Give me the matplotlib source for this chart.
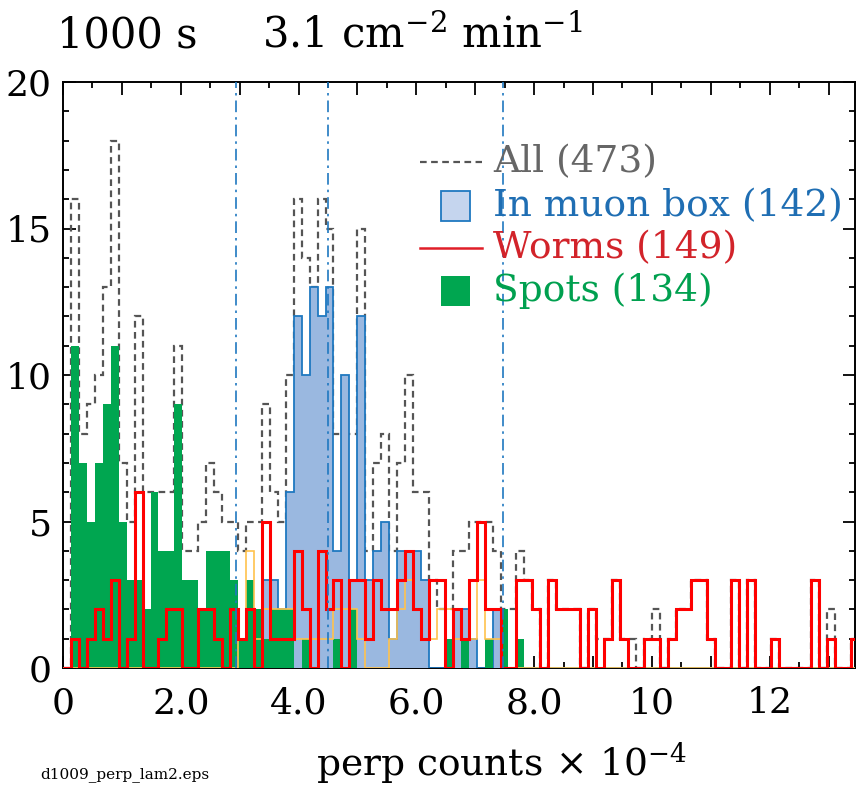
import numpy as np
import matplotlib
matplotlib.use("Agg")
import matplotlib.pyplot as plt
from matplotlib.patches import Rectangle

plt.rcParams["font.family"] = ["DejaVu Serif"]
plt.rcParams["mathtext.fontset"] = "dejavuserif"

# histogram data: 100 bins of 0.1351 (perp counts x 1e-4)
bin_width = 0.1351
n_bins = 100

all_counts = [0, 16, 8, 9, 10, 13, 18, 7, 5, 12,
              6, 6, 6, 6, 11, 4, 4, 5, 7, 6,
              5, 5, 4, 5, 5, 9, 6, 5, 10, 16,
              14, 13, 16, 15, 8, 8, 8, 15, 4, 7,
              8, 4, 7, 10, 6, 6, 3, 2, 2, 4,
              4, 5, 5, 5, 4, 2, 2, 4, 3, 2,
              0, 3, 2, 2, 2, 0, 2, 1, 1, 3,
              1, 1, 0, 1, 2, 0, 1, 2, 2, 3,
              3, 1, 0, 0, 3, 0, 3, 0, 0, 1,
              0, 0, 0, 0, 3, 0, 2, 0, 0, 1]

muon_counts = [0] * 25 + [3, 3, 2, 6, 12, 10, 13, 12, 13, 4,
                          10, 3, 12, 3, 4, 5, 1, 4, 4, 4,
                          3, 0, 0, 0, 2, 2, 1, 0, 0, 2] + [0] * 45

worm_counts = [0, 1, 0, 1, 2, 1, 3, 0, 1, 6,
               0, 0, 1, 2, 2, 0, 0, 2, 2, 1,
               0, 2, 1, 2, 0, 5, 1, 1, 1, 4,
               2, 0, 4, 2, 3, 0, 3, 3, 1, 3,
               2, 2, 3, 4, 2, 1, 3, 3, 0, 2,
               1, 3, 5, 2, 2, 0, 0, 3, 3, 2,
               0, 3, 2, 2, 2, 0, 2, 0, 1, 3,
               1, 0, 0, 1, 1, 0, 1, 2, 2, 3,
               3, 1, 0, 0, 3, 0, 3, 0, 0, 1,
               0, 0, 0, 0, 3, 0, 1, 0, 0, 1]

spot_counts = [0, 11, 7, 5, 7, 9, 11, 5, 3, 3,
               2, 6, 4, 4, 9, 3, 3, 2, 4, 4,
               4, 3, 1, 3, 2, 1, 2, 2, 2, 0,
               1, 0, 0, 0, 1, 0, 2, 0, 0, 0,
               0, 0, 0, 0, 0, 0, 0, 0, 1, 0,
               1, 0, 0, 1, 0, 2, 0, 1] + [0] * 42

other_counts = [0] * 22 + [1, 4, 1, 2, 2, 2, 2, 1, 1, 1,
                           1, 1, 2, 2, 2, 1, 0, 0, 0, 1,
                           2, 3, 2, 1, 1, 2, 2, 1, 1, 1,
                           3, 1, 1] + [0] * 45

cut_lines = [2.93, 4.50, 7.47]

legend_labels = ["All (473)", "In muon box (142)", "Worms (149)", "Spots (134)"]
x_tick_vals = list(range(0, 14))
x_tick_text = ["0", "", "2.0", "", "4.0", "", "6.0", "", "8.0", "", "10", "", "12", ""]
y_tick_vals = [0, 5, 10, 15, 20]

edges = np.arange(n_bins + 1) * bin_width

fig = plt.figure(figsize=(8.56, 7.87), dpi=100)
ax = fig.add_axes([63 / 856, 1 - 668 / 787, 792 / 856, 586 / 787])

ax.stairs(all_counts, edges, color="#555555", lw=1.6, ls=(0, (3, 2)), zorder=2)
ax.stairs(muon_counts, edges, fill=True, facecolor="#9ab8e0", zorder=3)
ax.stairs(muon_counts, edges, color="#1f78c0", lw=1.3, zorder=3.1)
ax.stairs(spot_counts, edges, fill=True, facecolor="#00a650", zorder=4)
ax.stairs(other_counts, edges, color="#ffc24d", lw=1.2, zorder=5)
ax.stairs(worm_counts, edges, color="#ff0000", lw=2.2, zorder=6)
for xc in cut_lines:
    ax.axvline(xc, color="#1f78c0", lw=1.2, ls=(0, (7, 3, 1.5, 3)), zorder=7)

ax.set_xlim(0, 13.45)
ax.set_ylim(0, 20)
ax.set_xticks(x_tick_vals)
ax.set_xticklabels(x_tick_text)
ax.set_xticks(np.arange(0, 13.5, 0.5), minor=True)
ax.set_yticks(y_tick_vals)
ax.set_yticklabels([str(v) for v in y_tick_vals])
ax.set_yticks(range(0, 21), minor=True)
ax.tick_params(which="both", direction="in", top=True, right=True, width=1.3,
               labelsize=26, colors="black")
ax.tick_params(which="major", length=9)
ax.tick_params(which="minor", length=4.5)
ax.tick_params(axis="x", which="major", pad=13)
ax.tick_params(axis="y", which="major", pad=8)
for s in ax.spines.values():
    s.set_linewidth(1.4)

# legend drawn by hand, texts coloured like their series
rows = [0.864, 0.788, 0.716, 0.643]
text_colors = ["#666666", "#1f6eb3", "#d2232a", "#00a04f"]
ax.plot([0.451, 0.529], [rows[0], rows[0]], transform=ax.transAxes,
        color="#555555", lw=1.6, ls=(0, (3, 2)), zorder=8)
ax.add_patch(Rectangle((0.477, rows[1] - 0.026), 0.037, 0.052, transform=ax.transAxes,
                       facecolor="#c5d5ee", edgecolor="#1f78c0", lw=1.3, zorder=8))
ax.plot([0.451, 0.529], [rows[2], rows[2]], transform=ax.transAxes,
        color="#e01e28", lw=1.8, zorder=8)
ax.add_patch(Rectangle((0.477, rows[3] - 0.026), 0.037, 0.052, transform=ax.transAxes,
                       facecolor="#00a650", edgecolor="none", zorder=8))
for lab, yy, c in zip(legend_labels, rows, text_colors):
    ax.text(0.543, yy, lab, transform=ax.transAxes, color=c, fontsize=27,
            va="center", ha="left", zorder=9)

fig.text(57 / 856, 1 - 36 / 787, "1000 s", fontsize=30, va="center", ha="left")
fig.text(262 / 856, 1 - 36 / 787, "3.1 cm$^{-2}$ min$^{-1}$",
         fontsize=30, va="center", ha="left")
fig.text(502 / 856, 1 - 763 / 787, r"perp counts$\,\times\,$10$^{-4}$",
         fontsize=27, va="center", ha="center")
fig.text(40 / 856, 1 - 775 / 787, "d1009_perp_lam2.eps", fontsize=11,
         va="center", ha="left")

fig.savefig("out.png", dpi=100)
